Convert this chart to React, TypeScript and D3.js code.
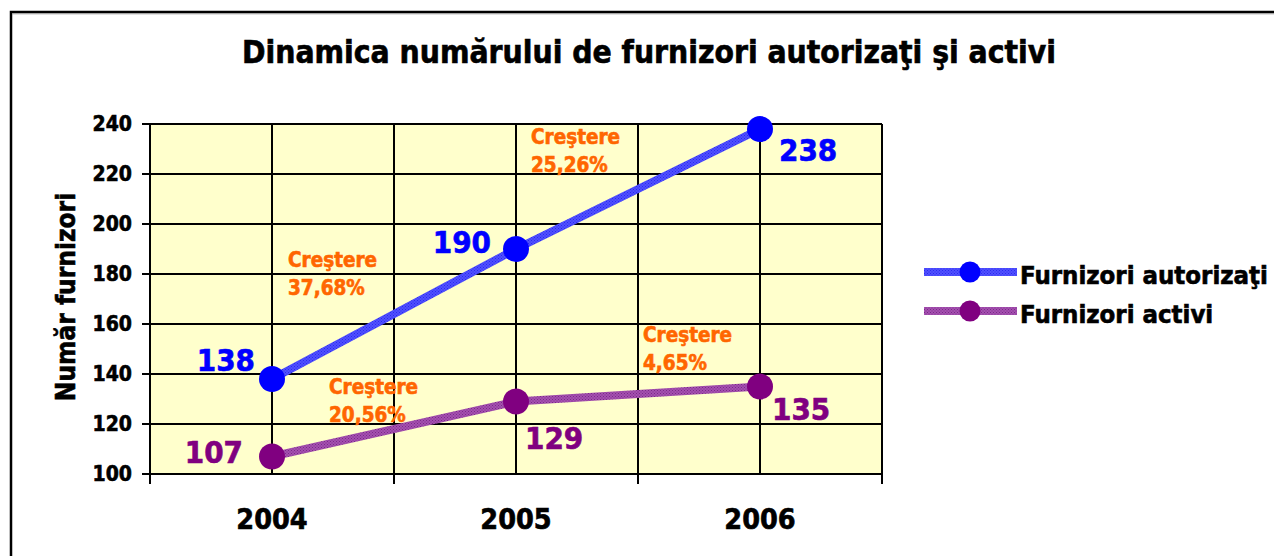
import React from "react";
import * as d3 from "d3";

const years = ["2004", "2005", "2006"];
const authorized = [138, 190, 238];
const active = [107, 129, 135];
const growthAuthorized = ["37,68%", "25,26%"];
const growthActive = ["20,56%", "4,65%"];
const yTicks = [100, 120, 140, 160, 180, 200, 220, 240];
const title = "Dinamica numărului de furnizori autorizaţi şi activi";
const yTitle = "Număr furnizori";
const growthWord = "Creştere";
const seriesNames = ["Furnizori autorizaţi", "Furnizori activi"];

const FONT = "'DejaVu Sans Condensed', 'DejaVu Sans', sans-serif";
const W = 1274;
const H = 556;
const plot = { left: 150, right: 882, top: 124, bottom: 474 };

// label offsets (style)
const valueOffsetsA = [
  { dx: -17, dy: -8, anchor: "end" },
  { dx: -25, dy: 4, anchor: "end" },
  { dx: 19, dy: 32, anchor: "start" },
];
const valueOffsetsB = [
  { dx: -29, dy: 6, anchor: "end" },
  { dx: 9, dy: 47, anchor: "start" },
  { dx: 12, dy: 33, anchor: "start" },
];
const growthOffsetsA = [
  { dx: -106, dy: -47 },
  { dx: -107, dy: -45 },
];
const growthOffsetsB = [
  { dx: -65, dy: -35 },
  { dx: 5, dy: -52 },
];

export default function App() {
  const x = d3.scaleBand<string>().domain(years).range([plot.left, plot.right]).padding(0);
  const y = d3.scaleLinear().domain([100, 240]).range([plot.bottom, plot.top]);
  const cx = (yr: string) => (x(yr) as number) + x.bandwidth() / 2;
  const line = d3
    .line<number>()
    .x((_, i) => cx(years[i]))
    .y((d) => y(d));

  const bandEdges = [...years.map((yr) => x(yr) as number), plot.right];
  const vGrid: number[] = [];
  years.forEach((yr) => {
    vGrid.push(x(yr) as number, cx(yr));
  });
  vGrid.push(plot.right);

  const blue = "#0000ff";
  const purple = "#800080";
  const orange = "#ff6600";

  const heavy = (c: string) => ({ stroke: c, strokeWidth: 0.6, paintOrder: "stroke" as any });

  const renderGrowth = (vals: number[], labels: string[], offs: { dx: number; dy: number }[]) =>
    labels.map((lab, i) => {
      const mx = (cx(years[i]) + cx(years[i + 1])) / 2;
      const my = (y(vals[i]) + y(vals[i + 1])) / 2;
      return (
        <text
          key={lab}
          x={mx + offs[i].dx}
          y={my + offs[i].dy}
          fill={orange}
          fontSize={20.5}
          fontWeight="bold"
          fontFamily={FONT}
          {...heavy(orange)}
        >
          <tspan x={mx + offs[i].dx}>{growthWord}</tspan>
          <tspan x={mx + offs[i].dx} dy={28}>
            {lab}
          </tspan>
        </text>
      );
    });

  const renderValues = (vals: number[], color: string, offs: any[]) =>
    vals.map((v, i) => (
      <text
        key={i}
        x={cx(years[i]) + offs[i].dx}
        y={y(v) + offs[i].dy}
        textAnchor={offs[i].anchor}
        fill={color}
        fontSize={31}
        fontWeight="bold"
        fontFamily={FONT}
        {...heavy(color)}
      >
        {v}
      </text>
    ));

  return (
    <svg
      width={W}
      height={H}
      style={{ position: "absolute", left: 0, top: 0, display: "block", background: "#fff" }}
    >
      <defs>
        <pattern id="patBlue" width="3" height="3" patternUnits="userSpaceOnUse">
          <rect width="3" height="3" fill="#5050ff" />
          <rect width="1" height="1" fill="#2a2aee" />
          <rect x="1.5" y="1.5" width="1" height="1" fill="#2a2aee" />
        </pattern>
        <pattern id="patPurple" width="3" height="3" patternUnits="userSpaceOnUse">
          <rect width="3" height="3" fill="#a550b0" />
          <rect width="1" height="1" fill="#7a2a88" />
          <rect x="1.5" y="1.5" width="1" height="1" fill="#7a2a88" />
        </pattern>
      </defs>

      {/* outer frame */}
      <rect x={11} y={12} width={1400} height={700} fill="none" stroke="#000" strokeWidth={2.5} />
      <line x1={12} x2={1274} y1={13.8} y2={13.8} stroke="#999" strokeWidth={1} />

      {/* title */}
      <text
        x={649}
        y={63}
        textAnchor="middle"
        fontSize={31.5}
        fontWeight="bold"
        fontFamily={FONT}
        fill="#000"
        {...heavy("#000")}
      >
        {title}
      </text>

      {/* plot background */}
      <rect
        x={plot.left}
        y={plot.top}
        width={plot.right - plot.left}
        height={plot.bottom - plot.top}
        fill="#ffffcc"
      />

      {/* horizontal grid */}
      {yTicks.map((t) => (
        <line key={"h" + t} x1={plot.left} x2={plot.right} y1={y(t)} y2={y(t)} stroke="#000" strokeWidth={2} />
      ))}
      {/* vertical grid */}
      {vGrid.map((gx, i) => (
        <line key={"v" + i} x1={gx} x2={gx} y1={plot.top} y2={plot.bottom} stroke="#000" strokeWidth={2} />
      ))}

      {/* y axis ticks and labels */}
      {yTicks.map((t) => (
        <g key={"yt" + t}>
          <line x1={plot.left - 8} x2={plot.left} y1={y(t)} y2={y(t)} stroke="#000" strokeWidth={2} />
          <text
            x={132}
            y={y(t) + 7}
            textAnchor="end"
            fontSize={21}
            fontWeight="bold"
            fontFamily={FONT}
            fill="#000"
            {...heavy("#000")}
          >
            {t}
          </text>
        </g>
      ))}
      {/* x axis ticks */}
      {bandEdges.map((bx, i) => (
        <line key={"xt" + i} x1={bx} x2={bx} y1={plot.bottom} y2={plot.bottom + 10} stroke="#000" strokeWidth={2} />
      ))}
      {years.map((yr) => (
        <text
          key={"xl" + yr}
          x={cx(yr)}
          y={529}
          textAnchor="middle"
          fontSize={28.5}
          fontWeight="bold"
          fontFamily={FONT}
          fill="#000"
          {...heavy("#000")}
        >
          {yr}
        </text>
      ))}

      {/* y title */}
      <text
        transform={`translate(75,297) rotate(-90)`}
        textAnchor="middle"
        fontSize={26}
        fontWeight="bold"
        fontFamily={FONT}
        fill="#000"
        {...heavy("#000")}
      >
        {yTitle}
      </text>

      {/* lines */}
      <path d={line(active) as string} fill="none" stroke="url(#patPurple)" strokeWidth={8} />
      <path d={line(authorized) as string} fill="none" stroke="url(#patBlue)" strokeWidth={8} />
      {active.map((v, i) => (
        <circle key={"pa" + i} cx={cx(years[i])} cy={y(v)} r={13} fill={purple} />
      ))}
      {authorized.map((v, i) => (
        <circle key={"pb" + i} cx={cx(years[i])} cy={y(v)} r={13} fill={blue} />
      ))}

      {renderValues(authorized, blue, valueOffsetsA)}
      {renderValues(active, purple, valueOffsetsB)}
      {renderGrowth(authorized, growthAuthorized, growthOffsetsA)}
      {renderGrowth(active, growthActive, growthOffsetsB)}

      {/* legend */}
      {seriesNames.map((name, i) => {
        const ly = 272 + i * 39;
        return (
          <g key={name}>
            <line
              x1={924}
              x2={1017}
              y1={ly}
              y2={ly}
              stroke={i === 0 ? "url(#patBlue)" : "url(#patPurple)"}
              strokeWidth={8}
            />
            <circle cx={970} cy={ly} r={10.5} fill={i === 0 ? blue : purple} />
            <text
              x={1020}
              y={ly + 12}
              fontSize={25.5}
              fontWeight="bold"
              fontFamily={FONT}
              fill="#000"
              {...heavy("#000")}
            >
              {name}
            </text>
          </g>
        );
      })}
    </svg>
  );
}
